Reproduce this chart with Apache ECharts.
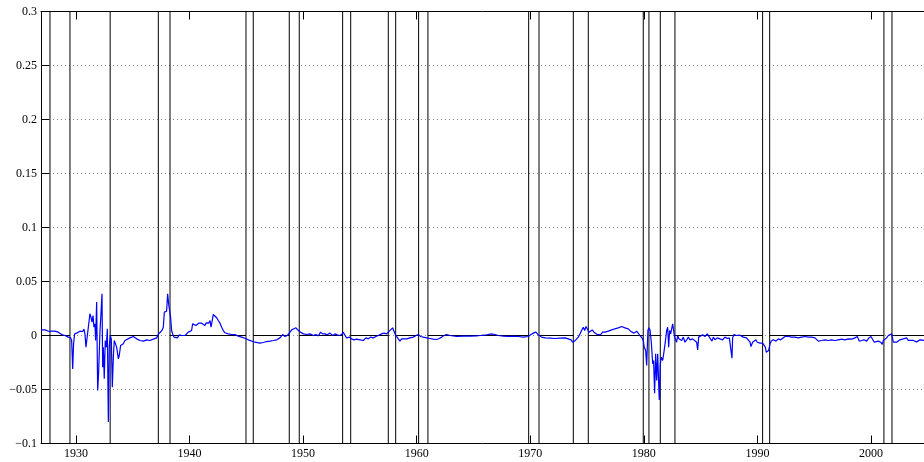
<!DOCTYPE html>
<html><head><meta charset="utf-8">
<script src="https://cdn.jsdelivr.net/npm/echarts@6/dist/echarts.min.js"></script>
<style>html,body{margin:0;padding:0;background:#fff}#c{width:924px;height:462px}</style>
</head><body><div id="c"></div>
<script>
// Monthly series (blue)
const dates = [
1926.92,1927.27,1927.42,1927.65,1927.86,1928.00,1928.15,1928.30,1928.44,1928.59,1928.74,1929.03,1929.32,1929.53,1929.62,1929.71,1929.79,1929.88,
1930.06,1930.35,1930.50,1930.59,1930.70,1930.79,1930.88,1931.00,1931.09,1931.23,1931.32,1931.41,1931.50,1931.58,1931.67,1931.73,1931.82,1931.91,1931.99,
1932.11,1932.20,1932.29,1932.35,1932.41,1932.49,1932.58,1932.67,1932.76,1932.85,1932.93,1933.02,1933.11,1933.20,1933.29,1933.37,1933.46,1933.58,1933.73,1933.81,1933.93,
1934.05,1934.17,1934.31,1934.46,1934.75,1934.90,1935.05,1935.34,1935.63,1935.93,1936.22,1936.51,1936.81,1937.10,1937.28,1937.39,1937.57,1937.69,1937.78,1937.89,1937.98,
1938.07,1938.16,1938.25,1938.33,1938.42,1938.51,1938.63,1938.72,1938.80,1938.92,1939.10,1939.30,1939.45,1939.60,1939.74,1939.89,
1940.04,1940.18,1940.27,1940.39,1940.57,1940.68,1940.80,1940.92,1941.06,1941.21,1941.36,1941.45,1941.56,1941.68,1941.80,1941.89,1941.97,
1942.09,1942.24,1942.39,1942.53,1942.68,1942.83,1942.97,1943.12,1943.41,1943.71,1943.85,1944.00,1944.29,1944.59,1944.88,1945.17,
1945.32,1945.76,1946.20,1946.49,1946.79,1947.08,1947.38,1947.67,1947.96,1948.20,1948.40,1948.61,1948.78,1948.99,1949.19,1949.37,1949.58,1949.78,
1950.02,1950.31,1950.60,1950.90,1951.13,1951.34,1951.54,1951.72,1951.92,1952.13,1952.36,1952.60,1952.80,1953.01,1953.19,1953.39,1953.54,1953.69,1953.83,
1954.07,1954.27,1954.48,1954.71,1955.01,1955.30,1955.53,1955.74,1955.95,1956.18,1956.41,1956.62,1956.91,1957.12,1957.35,1957.59,1957.74,1957.88,
1958.00,1958.12,1958.23,1958.38,1958.53,1958.67,1958.82,1959.12,1959.41,1959.70,1959.94,1960.14,1960.35,1960.58,1960.88,1961.17,1961.46,1961.76,1961.99,
1962.20,1962.40,1962.64,1962.93,1963.52,1964.10,1964.69,1965.28,1965.57,1966.16,1966.60,1966.89,1967.19,1967.63,1968.07,1968.51,1968.95,1969.39,1969.83,
1970.03,1970.27,1970.50,1970.71,1971.00,1971.30,1971.74,1972.18,1972.62,1973.06,1973.35,1973.59,1973.73,1973.85,1973.97,
1974.08,1974.23,1974.38,1974.52,1974.67,1974.79,1974.91,1975.02,1975.17,1975.32,1975.46,1975.61,1975.76,1975.90,1976.05,1976.20,1976.37,1976.58,1976.87,
1977.17,1977.46,1977.75,1978.05,1978.34,1978.63,1978.84,1978.99,1979.13,1979.37,1979.66,1979.84,1979.95,
1980.04,1980.16,1980.25,1980.36,1980.45,1980.54,1980.66,1980.78,1980.86,1980.95,1981.04,1981.13,1981.22,1981.30,1981.36,1981.45,1981.54,1981.66,1981.77,1981.89,
1982.01,1982.10,1982.19,1982.27,1982.36,1982.45,1982.54,1982.63,1982.71,1982.80,1982.89,1982.98,1983.09,1983.21,1983.33,1983.48,1983.62,1983.77,1983.92,1984.06,
1984.30,1984.47,1984.65,1984.74,1984.83,1985.00,1985.18,1985.38,1985.59,1985.77,1985.88,1986.00,1986.12,1986.26,1986.47,1986.70,1986.94,
1987.14,1987.35,1987.53,1987.70,1987.76,1987.82,1987.94,1988.17,1988.47,1988.76,1989.04,1989.20,1989.35,1989.43,1989.58,1989.70,1989.87,1989.99,
1990.11,1990.23,1990.34,1990.46,1990.58,1990.70,1990.78,1990.87,1990.99,1991.11,1991.22,1991.40,1991.64,1991.84,
1992.05,1992.22,1992.43,1992.72,1993.01,1993.31,1993.60,1993.90,1994.19,1994.48,1994.78,1995.07,1995.36,1995.66,1995.95,
1996.24,1996.54,1996.83,1997.12,1997.42,1997.71,1998.00,1998.30,1998.59,1998.80,1998.97,1999.18,1999.38,1999.62,1999.82,
2000.00,2000.15,2000.29,2000.44,2000.65,2000.85,2001.00,2001.09,2001.23,2001.38,2001.53,2001.67,2001.82,2001.97,
2002.11,2002.26,2002.41,2002.55,2002.70,2002.85,2002.99,2003.14,2003.29,2003.43,2003.73,2004.02,2004.32,2004.46,2004.67
];
const values = [
0.0052,0.0052,0.0046,0.0037,0.0040,0.0025,0.0040,0.0022,0.0031,0.0022,0.0009,0.0000,-0.0015,-0.0022,-0.0046,-0.0309,-0.0077,0.0015,
0.0022,0.0040,0.0052,0.0037,0.0059,0.0015,-0.0108,0.0000,0.0077,0.0201,0.0170,0.0123,0.0185,0.0077,0.0108,-0.0046,0.0309,-0.0509,-0.0355,
0.0031,0.0201,0.0386,-0.0293,-0.0108,-0.0401,-0.0046,-0.0108,0.0062,-0.0802,-0.0108,0.0000,-0.0031,-0.0478,-0.0201,-0.0046,-0.0031,-0.0108,-0.0216,-0.0185,-0.0093,
-0.0108,-0.0077,-0.0046,-0.0040,-0.0022,-0.0009,-0.0009,-0.0031,-0.0046,-0.0052,-0.0040,-0.0046,-0.0034,-0.0022,0.0015,0.0022,0.0046,0.0077,0.0216,0.0231,0.0225,
0.0386,0.0293,0.0309,0.0170,0.0046,0.0015,-0.0015,-0.0031,-0.0009,-0.0022,0.0006,0.0000,0.0009,0.0000,0.0015,0.0031,
0.0031,0.0046,0.0108,0.0108,0.0093,0.0102,0.0114,0.0099,0.0114,0.0123,0.0093,0.0117,0.0123,0.0114,0.0139,0.0077,0.0123,
0.0194,0.0176,0.0164,0.0139,0.0114,0.0077,0.0046,0.0025,0.0015,0.0009,0.0022,0.0009,-0.0006,-0.0015,-0.0025,-0.0040,
-0.0052,-0.0062,-0.0071,-0.0065,-0.0056,-0.0052,-0.0046,-0.0040,-0.0022,0.0009,-0.0009,0.0000,0.0022,0.0052,0.0062,0.0071,0.0046,0.0031,
0.0015,0.0009,0.0015,0.0000,0.0009,-0.0003,0.0031,0.0015,0.0015,0.0006,0.0022,0.0000,0.0015,0.0006,0.0000,0.0009,0.0031,0.0000,-0.0022,
-0.0015,-0.0031,-0.0040,-0.0034,-0.0040,-0.0046,-0.0022,-0.0031,-0.0015,-0.0022,-0.0009,0.0000,0.0015,0.0022,0.0015,0.0040,0.0052,0.0071,
0.0040,0.0009,-0.0009,-0.0031,-0.0052,-0.0031,-0.0040,-0.0031,-0.0022,-0.0015,0.0000,0.0009,-0.0009,-0.0015,-0.0022,-0.0028,-0.0034,-0.0037,-0.0028,
-0.0015,0.0000,0.0009,0.0000,-0.0009,-0.0006,-0.0006,-0.0003,0.0000,0.0006,0.0015,0.0009,0.0000,-0.0006,-0.0009,-0.0006,-0.0009,-0.0015,-0.0009,
0.0006,0.0022,0.0031,0.0006,-0.0015,-0.0022,-0.0025,-0.0028,-0.0025,-0.0022,-0.0031,-0.0040,-0.0062,-0.0077,-0.0046,
-0.0031,-0.0015,0.0015,0.0046,0.0077,0.0046,0.0083,0.0062,0.0031,0.0015,0.0052,0.0031,0.0046,0.0009,-0.0009,0.0009,0.0031,0.0031,0.0040,
0.0052,0.0062,0.0071,0.0083,0.0071,0.0062,0.0040,0.0052,0.0022,0.0040,0.0000,-0.0022,-0.0046,
-0.0108,-0.0139,-0.0278,0.0046,0.0071,0.0052,-0.0062,-0.0262,-0.0231,-0.0534,-0.0170,-0.0417,-0.0170,-0.0426,-0.0596,-0.0262,-0.0201,-0.0231,-0.0154,-0.0062,
0.0046,0.0077,-0.0108,0.0046,0.0015,0.0062,0.0108,0.0114,-0.0015,0.0000,-0.0062,0.0000,-0.0031,-0.0015,-0.0046,-0.0015,-0.0062,-0.0040,-0.0015,-0.0040,
-0.0031,-0.0022,-0.0062,-0.0133,-0.0015,-0.0031,0.0006,-0.0009,0.0015,-0.0015,-0.0031,-0.0052,-0.0015,-0.0040,-0.0022,-0.0031,-0.0040,
-0.0015,-0.0028,-0.0022,-0.0031,-0.0210,-0.0022,0.0009,0.0000,0.0003,-0.0015,-0.0022,-0.0015,-0.0062,-0.0102,-0.0062,-0.0071,-0.0040,-0.0062,
-0.0046,-0.0071,-0.0077,-0.0071,-0.0083,-0.0108,-0.0154,-0.0164,-0.0139,-0.0077,-0.0052,-0.0040,-0.0052,-0.0031,
-0.0040,-0.0022,-0.0009,-0.0009,-0.0015,-0.0015,-0.0022,-0.0015,-0.0009,-0.0015,-0.0015,-0.0022,-0.0052,-0.0046,-0.0040,
-0.0046,-0.0040,-0.0046,-0.0040,-0.0034,-0.0040,-0.0031,-0.0034,-0.0022,-0.0009,-0.0052,-0.0046,-0.0040,-0.0052,-0.0022,
-0.0009,-0.0015,-0.0062,-0.0077,-0.0052,-0.0062,-0.0083,-0.0046,-0.0040,-0.0022,0.0000,-0.0009,0.0015,-0.0062,
-0.0077,-0.0062,-0.0046,-0.0040,-0.0056,-0.0031,-0.0040,-0.0022,-0.0046,-0.0040,-0.0046,-0.0059,-0.0040,-0.0031,-0.0046
];
// Recession boundaries (black lines)
const recPeaks   = [1929.47,1937.25,1944.97,1948.78,1953.48,1957.50,1960.17,1969.86,1973.79,1979.95,1981.45,1990.46,2001.14];
const recTroughs = [1927.71,1933.01,1938.28,1945.61,1949.66,1954.19,1958.15,1960.99,1970.77,1975.11,1980.45,1982.74,1991.08,2001.85];
const xTicks = [1930,1940,1950,1960,1970,1980,1990,2000];
const yTickLabels = ['\u22120.1','\u22120.05','0','0.05','0.1','0.15','0.2','0.25','0.3'];

const X_MIN = 1926.92, X_MAX = 2004.67, Y_MIN = -0.1, Y_MAX = 0.3;

const blue = dates.map((d,i)=>[d, values[i]]);

// zero line during expansions
const zero = [];
zero.push([X_MIN,0],[recTroughs[0],0],[recTroughs[0],'-']);
for (let i=0;i<recPeaks.length;i++){
  zero.push([recTroughs[i],0],[recPeaks[i],0],[recPeaks[i],'-']);
}
zero.push([recTroughs[recTroughs.length-1],0],[X_MAX,0]);

// vertical recession boundary lines
const vlines = [];
recPeaks.concat(recTroughs).sort((a,b)=>a-b).forEach(d=>{
  vlines.push([d,Y_MIN],[d,Y_MAX],[d,'-']);
});

const font = {fontFamily:'Liberation Serif', fontSize:12, color:'#000'};
const chart = echarts.init(document.getElementById('c'), null, {renderer:'canvas'});
chart.setOption({
  animation:false,
  backgroundColor:'#fff',
  grid:{left:41, right:0, top:11.5, bottom:18.5, containLabel:false},
  xAxis:[{
    type:'value', min:X_MIN, max:X_MAX, position:'bottom',
    axisLine:{show:true, onZero:false, lineStyle:{color:'#000', width:1}},
    axisTick:{show:true, inside:true, length:8, customValues:xTicks, lineStyle:{color:'#000'}},
    axisLabel:Object.assign({show:true, margin:4, customValues:xTicks, formatter:v=>String(Math.round(v))}, font),
    splitLine:{show:false}
  },{
    type:'value', min:X_MIN, max:X_MAX, position:'top',
    axisLine:{show:true, onZero:false, lineStyle:{color:'#000', width:1}},
    axisTick:{show:true, inside:true, length:8, customValues:xTicks, lineStyle:{color:'#000'}},
    axisLabel:{show:false},
    splitLine:{show:false}
  }],
  yAxis:{
    type:'value', min:Y_MIN, max:Y_MAX, interval:0.05,
    axisLine:{show:true, onZero:false, lineStyle:{color:'#000', width:1}},
    axisTick:{show:true, inside:true, length:8, lineStyle:{color:'#000'}},
    axisLabel:Object.assign({margin:4, formatter:v=>yTickLabels[Math.round((v-Y_MIN)/0.05)]}, font),
    splitLine:{show:true, lineStyle:{color:'#8c8c8c', width:1, type:[1,3]}}
  },
  series:[
    {type:'line', data:vlines, showSymbol:false, symbol:'none', connectNulls:false,
     lineStyle:{color:'#000', width:1}, silent:true, z:2},
    {type:'line', data:zero, showSymbol:false, symbol:'none', connectNulls:false,
     lineStyle:{color:'#000', width:1}, silent:true, z:3},
    {type:'line', data:blue, showSymbol:false, symbol:'none',
     lineStyle:{color:'#0000ff', width:1.2}, silent:true, z:4}
  ]
});
</script></body></html>
